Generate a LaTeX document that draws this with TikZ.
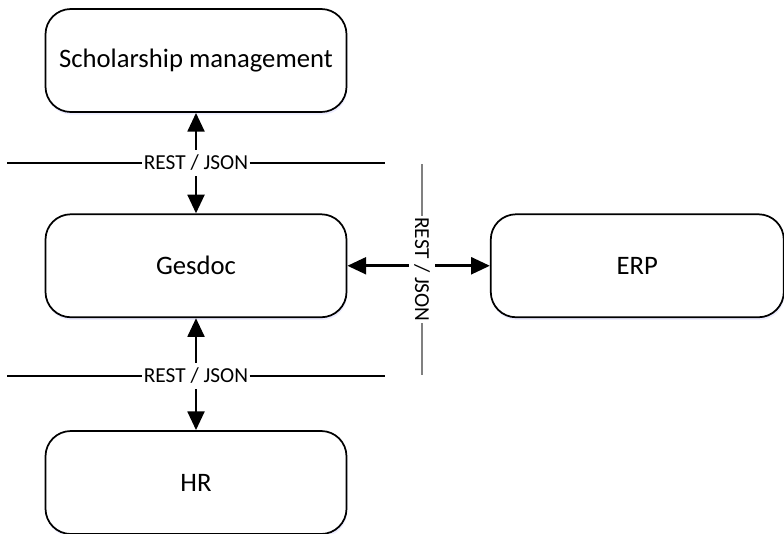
\documentclass[tikz,border=0pt]{standalone}
\usepackage{fontspec}
\setmainfont{Carlito}
\usepackage{tikz}
\usetikzlibrary{arrows.meta,positioning,shadows}

\begin{document}
\begin{tikzpicture}[x=0.75pt, y=-0.75pt, node distance=75pt, auto]
    % Styles
    \tikzstyle{system}=[rectangle, rounded corners=19pt, minimum width=225.75pt, minimum height=77.25pt, text centered, draw=black, line width=1.3pt, fill=white, font=\fontsize{20}{24}\selectfont, drop shadow={shadow xshift=0.6pt, shadow yshift=-2pt, fill=blue!12, opacity=0.6}]
    \tikzstyle{proto}=[inner xsep=1pt, inner ysep=0pt, minimum height=19.5pt, fill=white, font=\fontsize{16}{19}\selectfont]
    \tikzstyle{arrow}=[{Triangle[length=14pt, width=12.5pt]}-, line width=2.2pt]
    \tikzstyle{border}=[line width=1.3pt]

    \useasboundingbox (0,0) rectangle (784,533);

    % Nodes
    \node (schol) [system] at (196,60.5) {Scholarship management};
    \node (gesdoc) [system, below=75.4pt of schol] {Gesdoc};
    \node (hr) [system, below=84pt of gesdoc] {HR};
    \node (erp) [system, right=106.9pt of gesdoc, minimum width=219.75pt] {ERP};

    \node (rest1) [proto] at (196,163) {REST / JSON};
    \node (rest2) [proto] at (196,376) {REST / JSON};
    \node (rest3) [proto, rotate=-90] at (422,269.5) {REST / JSON};

    \coordinate (b1l) at (7,163);
    \coordinate (b1r) at (385,163);
    \coordinate (b2l) at (7,376);
    \coordinate (b2r) at (385,376);
    \coordinate (b3t) at (422,164);
    \coordinate (b3b) at (422,375);

    % Connections
    \draw [border] (b1l) -- (rest1) -- (b1r);
    \draw [border] (b2l) -- (rest2) -- (b2r);
    \draw [border, draw=black!50, line width=1.1pt] (b3t) -- (rest3) -- (b3b);

    \draw [arrow] (schol) -- (rest1);
    \draw [arrow] (gesdoc) -- (rest1);
    \draw [arrow] (gesdoc) -- (rest2);
    \draw [arrow] (hr) -- (rest2);
    \draw [arrow] (gesdoc.east) -- (rest3.south |- gesdoc.east);
    \draw [arrow] (erp.west) -- (rest3.north |- erp.west);

\end{tikzpicture}
\end{document}
